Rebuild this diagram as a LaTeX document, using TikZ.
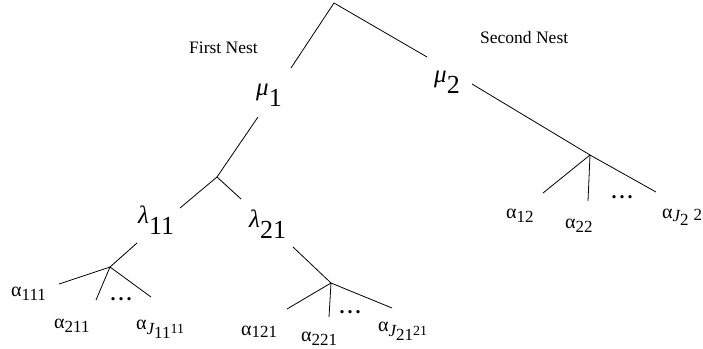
\documentclass[tikz,border=0pt]{standalone}
\usepackage{fontspec}
\setmainfont{Liberation Serif}
\newcommand{\glab}[2]{\raisebox{11pt}{\fontsize{25}{25}\selectfont\itshape #1}{\fontsize{26}{26}\selectfont #2}}
\newcommand{\alab}[2][4pt]{\raisebox{#1}{\fontsize{20}{20}\selectfont α}{\fontsize{17}{17}\selectfont #2}}
\newcommand{\jlab}[3][9pt]{{\fontsize{17}{17}\selectfont\raisebox{#1}{\fontsize{20}{20}\selectfont α}\raisebox{4pt}{\itshape J}#2\raisebox{5pt}{\fontsize{14}{14}\selectfont #3}}}
\newcommand{\tdots}{{\fontsize{20}{20}\selectfont\bfseries .\kern3pt.\kern3pt.}}
\begin{document}
\begin{tikzpicture}[x=1pt,y=-1pt,
  lab/.style={inner sep=0pt, anchor=base west},
  dotsn/.style={inner sep=0pt, anchor=center},
  nest/.style={inner sep=0pt, anchor=base west, font=\fontsize{17.5}{17.5}\selectfont},
  br/.style={line width=0.8pt, black}]
\useasboundingbox (0,0) rectangle (703,348);
% texts
\node[nest] (fn) at (189,53) {First Nest};
\node[nest] (sn) at (480,43) {Second Nest};
\node[lab] (mu1) at (256,106) {\glab{μ}{1}};
\node[lab] (mu2) at (434,93) {\glab{μ}{2}};
\node[lab] (l11) at (138,234) {\glab{λ}{11}};
\node[lab] (l21) at (249,238) {\glab{λ}{21}};
\node[lab] (a111) at (11,300) {\alab{111}};
\node[lab] (a211) at (54,332) {\alab{211}};
\node[lab] (aj11) at (136,338) {\jlab{11}{11}};
\node[lab] (a121) at (241,337) {\alab[2pt]{121}};
\node[lab] (a221) at (301,345) {\alab{221}};
\node[lab] (aj21) at (378,340) {\jlab{21}{21}};
\node[lab] (a12) at (506,222) {\alab{12}};
\node[lab] (a22) at (565,232) {\alab{22}};
\node[lab] (aj2) at (662,225) {\jlab[7pt]{2}{\kern5pt\fontsize{17}{17}\selectfont 2}};
\node[dotsn] (d1) at (121,299) {\tdots};
\node[dotsn] (d2) at (350,312) {\tdots};
\node[dotsn] (d3) at (622,197) {\tdots};
% coordinates
\coordinate (apex) at (334,3);
\coordinate (m1t) at (291,68);
\coordinate (m2t) at (427,57);
\coordinate (m1b) at (258,117);
\coordinate (J1) at (217,177);
\coordinate (l11t) at (180,208);
\coordinate (l21t) at (241,199);
\coordinate (l11b) at (137,243);
\coordinate (J11) at (110,267);
\coordinate (e111) at (59,284);
\coordinate (e211) at (96,300);
\coordinate (ej11) at (151,297);
\coordinate (l21b) at (293,247);
\coordinate (J21) at (331,283);
\coordinate (e121) at (287,309);
\coordinate (e221) at (329,317);
\coordinate (ej21) at (392,308);
\coordinate (m2b) at (472,84);
\coordinate (J2) at (590,155);
\coordinate (e12) at (543,193);
\coordinate (e22) at (588,201);
\coordinate (ej2) at (656,192);
% branches
\draw[br] (m1t) -- (apex) -- (m2t);
\draw[br] (m1b) -- (J1);
\draw[br] (J1) -- (l11t);
\draw[br] (J1) -- (l21t);
\draw[br] (l11b) -- (J11);
\draw[br] (J11) -- (e111);
\draw[br] (J11) -- (e211);
\draw[br] (J11) -- (ej11);
\draw[br] (l21b) -- (J21);
\draw[br] (J21) -- (e121);
\draw[br] (J21) -- (e221);
\draw[br] (J21) -- (ej21);
\draw[br] (m2b) -- (J2);
\draw[br] (J2) -- (e12);
\draw[br] (J2) -- (e22);
\draw[br] (J2) -- (ej2);
\end{tikzpicture}
\end{document}
